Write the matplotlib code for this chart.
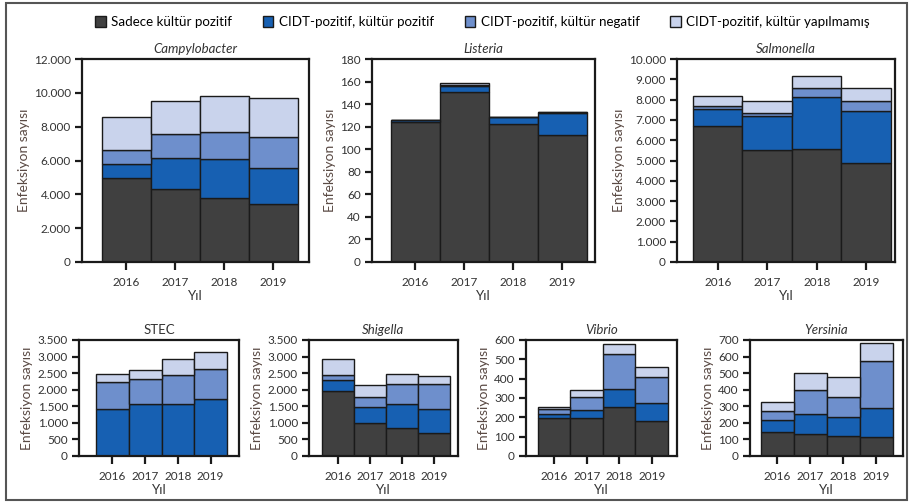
import matplotlib
matplotlib.use('Agg')
import matplotlib.pyplot as plt
from matplotlib.patches import Patch, Rectangle
import numpy as np

plt.rcParams['font.family'] = ['Lato', 'DejaVu Sans']

years = ['2016', '2017', '2018', '2019']
labels = ['Sadece kültür pozitif', 'CIDT-pozitif, kültür pozitif',
          'CIDT-pozitif, kültür negatif', 'CIDT-pozitif, kültür yapılmamış']
colors = ['#404040', '#1760b2', '#6e8fcc', '#c9d3ec']

# segment değerleri (alttan üste): sadece kültür, CIDT+kültür+, CIDT+kültür-, CIDT kültürsüz
campylobacter = [[4950, 850, 800, 2000],
                 [4300, 1830, 1460, 1900],
                 [3810, 2300, 1580, 2150],
                 [3400, 2170, 1800, 2310]]
listeria = [[124, 2, 0, 0],
            [151, 5, 1, 2],
            [122, 7, 0, 0],
            [113, 19, 1, 0]]
salmonella = [[6700, 850, 130, 520],
              [5520, 1660, 170, 570],
              [5550, 2570, 430, 590],
              [4890, 2540, 510, 630]]
stec = [[0, 1420, 820, 220],
        [0, 1560, 750, 280],
        [0, 1570, 870, 480],
        [0, 1730, 880, 530]]
shigella = [[1950, 330, 170, 480],
            [1010, 460, 310, 350],
            [830, 740, 610, 280],
            [700, 730, 750, 240]]
vibrio = [[197, 21, 26, 10],
          [197, 40, 66, 38],
          [254, 95, 177, 52],
          [180, 92, 138, 52]]
yersinia = [[142, 77, 50, 56],
            [134, 117, 148, 100],
            [120, 115, 124, 120],
            [112, 179, 283, 106]]

W, H = 912, 503
fig = plt.figure(figsize=(W / 100, H / 100), dpi=100)

# (ad, veri, italik, ymax, ystep, eksen px: sol, sağ, üst, alt, çubuk px: sol, sağ)
panels = [
    ('Campylobacter', campylobacter, True, 12000, 2000, 82, 309, 59, 262, 102, 298),
    ('Listeria', listeria, True, 180, 20, 372, 595, 59, 262, 391, 587),
    ('Salmonella', salmonella, True, 10000, 1000, 677, 895, 59, 262, 693, 891),
    ('STEC', stec, False, 3500, 500, 79, 239, 340, 456, 96, 227),
    ('Shigella', shigella, True, 3500, 500, 309, 458, 340, 456, 322, 450),
    ('Vibrio', vibrio, True, 600, 100, 526, 677, 340, 456, 538, 668),
    ('Yersinia', yersinia, True, 700, 100, 750, 903, 340, 456, 761, 893),
]

def fmt(v):
    return '{:,}'.format(int(v)).replace(',', '.')

x = np.arange(len(years))
for name, data, ital, ymax, ystep, al, ar, at, ab, bl, br in panels:
    ax = fig.add_axes([al / W, (H - ab) / H, (ar - al) / W, (ab - at) / H])
    d = np.array(data, dtype=float)
    bottom = np.zeros(len(years))
    for k in range(4):
        ax.bar(x, d[:, k], bottom=bottom, width=1.0, color=colors[k],
               edgecolor='#1a1a1a', linewidth=1.0)
        bottom += d[:, k]
    u = (br - bl) / 4
    ax.set_xlim(-0.5 - (bl - al) / u, 3.5 + (ar - br) / u)
    ax.set_ylim(0, ymax)
    yt = np.arange(0, ymax + 1, ystep)
    ax.set_yticks(yt)
    ax.set_yticklabels([fmt(v) for v in yt])
    ax.set_xticks(x)
    ax.set_xticklabels(years)
    for s in ax.spines.values():
        s.set_linewidth(1.6)
        s.set_color('#1a1a1a')
    ax.tick_params(axis='both', direction='out', length=5, width=1.6,
                   labelsize=8.5, colors='#1a1a1a', labelcolor='#333333', pad=3)
    ax.tick_params(axis='x', length=6, pad=5)
    ax.set_xlabel('Yıl', fontsize=9.5, color='#333333', labelpad=1)
    ax.set_ylabel('Enfeksiyon sayısı', fontsize=10, color='#5a4a44', labelpad=3)
    ax.set_title(name, fontsize=9.5, style='italic' if ital else 'normal',
                 color='#333333', pad=4)

handles = [Patch(facecolor=c, edgecolor='#1a1a1a', linewidth=1.0) for c in colors]
fig.legend(handles, labels, loc='center', bbox_to_anchor=(0.529, 1 - 22 / H), ncol=4,
           frameon=False, fontsize=9.6, handlelength=0.8, handleheight=0.9,
           handletextpad=0.4, columnspacing=2.3)

fig.patches.append(Rectangle((6 / W, 3 / H), 901 / W, 497 / H, transform=fig.transFigure,
                             fill=False, edgecolor='#555555', linewidth=1.5))

fig.savefig('out.png', dpi=100)
